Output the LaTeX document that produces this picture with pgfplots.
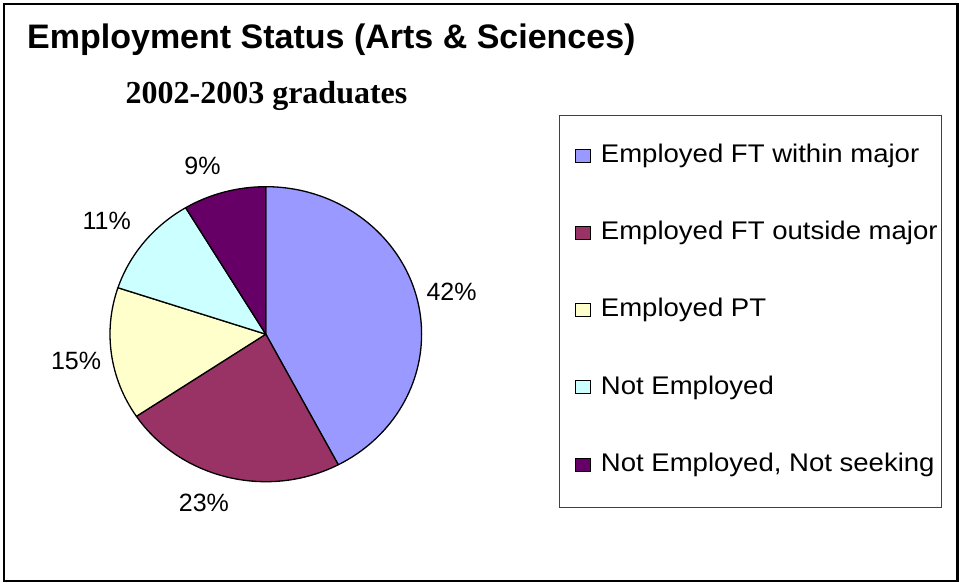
\documentclass[border=0pt]{standalone}
\usepackage{pgfplots}
\pgfplotsset{compat=1.18}
\usepackage{pgfplotstable}
\usepackage{fontspec}
\setmainfont{Liberation Sans}
\newfontfamily\timesfont{Liberation Serif}
\newfontfamily\legfont[FakeStretch=1.08]{Liberation Sans}
\definecolor{c0}{HTML}{9999FF}
\definecolor{c1}{HTML}{993366}
\definecolor{c2}{HTML}{FFFFCC}
\definecolor{c3}{HTML}{CCFFFF}
\definecolor{c4}{HTML}{660066}

\pgfplotstableread{
share pct lx ly
42.3 42 1.192 0.286
23.3 23 -0.397 -1.141
14.5 15 -1.218 -0.182
11.3 11 -1.021 0.767
8.6 9 -0.406 1.140
}\piedata

\begin{document}
\begin{tikzpicture}[x=1pt,y=1pt]
\useasboundingbox (0,0) rectangle (959,583);
\draw[line width=2.5pt] (3.8,579.2) rectangle (957.3,2.2);
% angles
\gdef\cum{0}
\foreach \i in {0,...,4}{
  \pgfplotstablegetelem{\i}{share}\of\piedata
  \let\v\pgfplotsretval
  \pgfmathsetmacro\a{90-3.6*\cum}
  \pgfmathsetmacro\b{90-3.6*(\cum+\v)}
  \expandafter\xdef\csname sa\i\endcsname{\a}
  \expandafter\xdef\csname sb\i\endcsname{\b}
  \pgfmathsetmacro\nc{\cum+\v}
  \xdef\cum{\nc}
}
% title
\node[anchor=base west, inner sep=0pt] at (27,583-48.3) {\fontsize{34}{38}\selectfont\bfseries Employment Status (Arts \& Sciences)};
\node[anchor=base, inner sep=0pt] at (266.5,583-103.3) {\fontsize{32}{36}\selectfont\timesfont\bfseries 2002-2003 graduates};
\begin{axis}[at={(265.8pt,248.8pt)}, anchor=center, scale only axis,
  width=311.6pt, height=295pt, xmin=-1, xmax=1, ymin=-1, ymax=1,
  hide axis, clip=false]
\pgfplotsinvokeforeach{0,...,4}{
  \filldraw[fill=c#1, draw=black, line width=1.3pt, line join=round]
    (axis cs:0,0) -- (axis cs:{cos(\csname sa#1\endcsname)},{sin(\csname sa#1\endcsname)})
    arc[start angle=\csname sa#1\endcsname, end angle=\csname sb#1\endcsname,
        x radius=155.8pt, y radius=147.5pt] -- cycle;
}
\addplot[only marks, mark=none, point meta=explicit symbolic,
  nodes near coords={\pgfplotspointmeta\%},
  nodes near coords style={anchor=center, inner sep=0pt, font=\fontsize{25}{30}\selectfont}]
  table[x=lx, y=ly, meta=pct] {\piedata};
\end{axis}
% legend
\draw[line width=1pt, draw=black!75] (559.3,583-116) rectangle (941.7,583-507.7);
\foreach \n/\t [count=\k from 0] in {c0/Employed FT within major, c1/Employed FT outside major, c2/Employed PT, c3/Not Employed, c4/{Not Employed, Not seeking}}{
  \pgfmathsetmacro\yb{583-(162.3+77.25*\k)}
  \filldraw[fill=\n, draw=black, line width=0.9pt] (575.5,\yb+0.3) rectangle (590.5,\yb+13.3);
  \node[anchor=base west, inner sep=0pt] at (600.7,\yb) {\fontsize{25.5}{30}\legfont \t};
}
\end{tikzpicture}
\end{document}
